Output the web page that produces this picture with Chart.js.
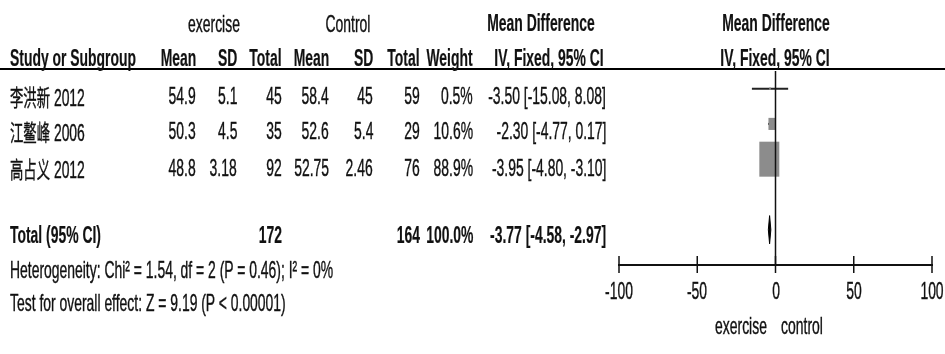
<!DOCTYPE html>
<html>
<head>
<meta charset="utf-8">
<script src="https://cdn.jsdelivr.net/npm/chart.js@4.4.0/dist/chart.umd.min.js"></script>
<style>
  body { margin: 0; background: #fff; }
  #wrap { position: relative; width: 945px; height: 354px; overflow: hidden; }
  #plot { position: absolute; left: 0; top: 0; }
  .t {
    position: absolute; white-space: nowrap; line-height: 24px; height: 24px;
    font-family: "Liberation Sans", Arial, sans-serif;
    font-size: 24px; color: #111; -webkit-text-stroke: 0.4px #111;
  }
  .t .cjk { font-family: "Noto Sans CJK SC", sans-serif; font-size: 23px; }
  .b { font-weight: bold; -webkit-text-stroke: 0.2px #111; }
  #rule { position: absolute; left: 0; top: 68px; width: 945px; height: 2px; background: #000; }
</style>
</head>
<body>
<div id="wrap">
  <canvas id="plot" width="945" height="354"></canvas>
  <div id="rule"></div>
</div>
<script>
// studies
const studies = ['李洪新 2012', '江鳌峰 2006', '高占义 2012'];
const exMean = [54.9, 50.3, 48.8];
const exSD = [5.1, 4.5, 3.18];
const exTotal = [45, 35, 92];
const ctMean = [58.4, 52.6, 52.75];
const ctSD = [45, 5.4, 2.46];
const ctTotal = [59, 29, 76];
const weights = [0.5, 10.6, 88.9];
const md = [-3.50, -2.30, -3.95];
const ciLow = [-15.08, -4.77, -4.80];
const ciHigh = [8.08, 0.17, -3.10];

// pooled result
const totalEx = 172;
const totalCt = 164;
const totalWeight = 100.0;
const totalMd = -3.77;
const totalLow = -4.58;
const totalHigh = -2.97;

const xTicks = [-100, -50, 0, 50, 100];
const heterogeneity = 'Heterogeneity: Chi² = 1.54, df = 2 (P = 0.46); I² = 0%';
const overallEffect = 'Test for overall effect: Z = 9.19 (P < 0.00001)';

const wrap = document.getElementById('wrap');
const SX = 0.58; // the picture's text is very narrow

// put a piece of text, y is the middle of the line
function put(text, x, y, align, cls) {
  const el = document.createElement('div');
  el.className = 't' + (cls ? ' ' + cls : '');
  // CJK chars in their own font
  text.split(/([\u4e00-\u9fff]+)/).forEach(function(part) {
    if (!part) return;
    if (/[\u4e00-\u9fff]/.test(part)) {
      const s = document.createElement('span');
      s.className = 'cjk';
      s.textContent = part;
      el.appendChild(s);
    } else {
      el.appendChild(document.createTextNode(part));
    }
  });
  el.style.top = (y - 12) + 'px';
  if (align === 'right') {
    el.style.right = (945 - x) + 'px';
    el.style.transformOrigin = 'right center';
    el.style.transform = 'scaleX(' + SX + ')';
  } else if (align === 'center') {
    el.style.left = x + 'px';
    el.style.transformOrigin = 'center center';
    el.style.transform = 'translateX(-50%) scaleX(' + SX + ')';
  } else {
    el.style.left = x + 'px';
    el.style.transformOrigin = 'left center';
    el.style.transform = 'scaleX(' + SX + ')';
  }
  wrap.appendChild(el);
}

function ciText(m, lo, hi) {
  return m.toFixed(2) + ' [' + lo.toFixed(2) + ', ' + hi.toFixed(2) + ']';
}

// columns (right edges)
const cols = [196, 237, 282, 329, 373, 420, 473];
const effX = 606;

// header
put('exercise', 214, 24, 'center');
put('Control', 348, 24, 'center');
put('Mean Difference', 541, 23, 'center', 'b');
put('Mean Difference', 776, 23, 'center', 'b');
put('Study or Subgroup', 10, 58, 'left', 'b');
['Mean', 'SD', 'Total', 'Mean', 'SD', 'Total', 'Weight'].forEach(function(h, i) {
  put(h, cols[i], 58, 'right', 'b');
});
put('IV, Fixed, 95% CI', 549, 58, 'center', 'b');
put('IV, Fixed, 95% CI', 775, 58, 'center', 'b');

// study rows
const rowY = [96, 131, 168];
studies.forEach(function(s, i) {
  put(s, 10, rowY[i], 'left');
  const vals = [exMean[i], exSD[i], exTotal[i], ctMean[i], ctSD[i], ctTotal[i], weights[i].toFixed(1) + '%'];
  vals.forEach(function(v, j) { put(String(v), cols[j], rowY[i], 'right'); });
  put(ciText(md[i], ciLow[i], ciHigh[i]), effX, rowY[i], 'right');
});

// total
put('Total (95% CI)', 10, 235, 'left', 'b');
put(String(totalEx), cols[2], 235, 'right', 'b');
put(String(totalCt), cols[5], 235, 'right', 'b');
put(totalWeight.toFixed(1) + '%', cols[6], 235, 'right', 'b');
put(ciText(totalMd, totalLow, totalHigh), effX, 235, 'right', 'b');
put(heterogeneity, 10, 270, 'left');
put(overallEffect, 10, 303, 'left');

// axis captions
put('exercise', 741, 326, 'center');
put('control', 802, 326, 'center');

// forest plot: dataset 0 is drawn last (on top)
const ciSets = studies.map(function(s, i) {
  return {
    label: s,
    data: [{x: ciLow[i], y: i + 1}, {x: ciHigh[i], y: i + 1}],
    showLine: true, borderColor: '#222', borderWidth: 2, pointRadius: 0
  };
});

const boxes = {
  id: 'boxes',
  beforeDatasetDraw(chart, args) {
    if (args.index !== 0) return; // boxes go over the CI lines, under the zero line
    const ctx = chart.ctx, xs = chart.scales.x, ys = chart.scales.y;
    ctx.save();
    ctx.fillStyle = '#8c8c8c';
    weights.forEach(function(w, i) {
      const cx = xs.getPixelForValue(md[i]);
      const cy = ys.getPixelForValue(i + 1);
      const bw = 2.12 * Math.sqrt(w);
      const bh = bw * 1.75;
      ctx.fillRect(cx - bw / 2, cy - bh / 2, bw, bh);
    });
    ctx.restore();
  },
  afterDraw(chart) {
    // ticks crossing the axis line
    const ctx = chart.ctx, xs = chart.scales.x;
    const y0 = chart.chartArea.bottom;
    ctx.save();
    ctx.strokeStyle = '#111';
    ctx.lineWidth = 1.5;
    xTicks.forEach(function(t) {
      const px = xs.getPixelForValue(t);
      ctx.beginPath();
      ctx.moveTo(px, y0 - 9);
      ctx.lineTo(px, y0 + 8);
      ctx.stroke();
    });
    ctx.restore();
  }
};

const chart = new Chart(document.getElementById('plot'), {
  type: 'scatter',
  data: {
    datasets: [
      {
        label: 'line of no effect',
        data: [{x: 0, y: 0.45}, {x: 0, y: 6}],
        showLine: true, borderColor: '#111', borderWidth: 1.5, pointRadius: 0
      }
    ].concat(ciSets).concat([
      {
        label: 'Total (95% CI)',
        data: [{x: totalLow, y: 5}, {x: totalMd, y: 4.6}, {x: totalHigh, y: 5}, {x: totalMd, y: 5.4}, {x: totalLow, y: 5}],
        showLine: true, fill: 'shape', backgroundColor: '#000', borderColor: '#000', borderWidth: 1, pointRadius: 0
      }
    ])
  },
  plugins: [boxes],
  options: {
    responsive: false,
    animation: false,
    layout: { padding: { left: 619, right: 13, top: 71, bottom: 0 } },
    plugins: { legend: { display: false }, tooltip: { enabled: false } },
    scales: {
      x: {
        type: 'linear', min: -100, max: 100,
        afterBuildTicks: function(scale) { scale.ticks = xTicks.map(function(v) { return {value: v}; }); },
        afterFit: function(scale) { scale.height = 89; },
        border: { display: true, color: '#111', width: 2 },
        grid: { display: false, drawTicks: false },
        ticks: { display: false }
      },
      y: { type: 'linear', min: 0.5, max: 6, reverse: true, display: false }
    }
  }
});

// tick labels as text, placed with the x scale
xTicks.forEach(function(t) {
  put(String(t), chart.scales.x.getPixelForValue(t), 291, 'center');
});
</script>
</body>
</html>
